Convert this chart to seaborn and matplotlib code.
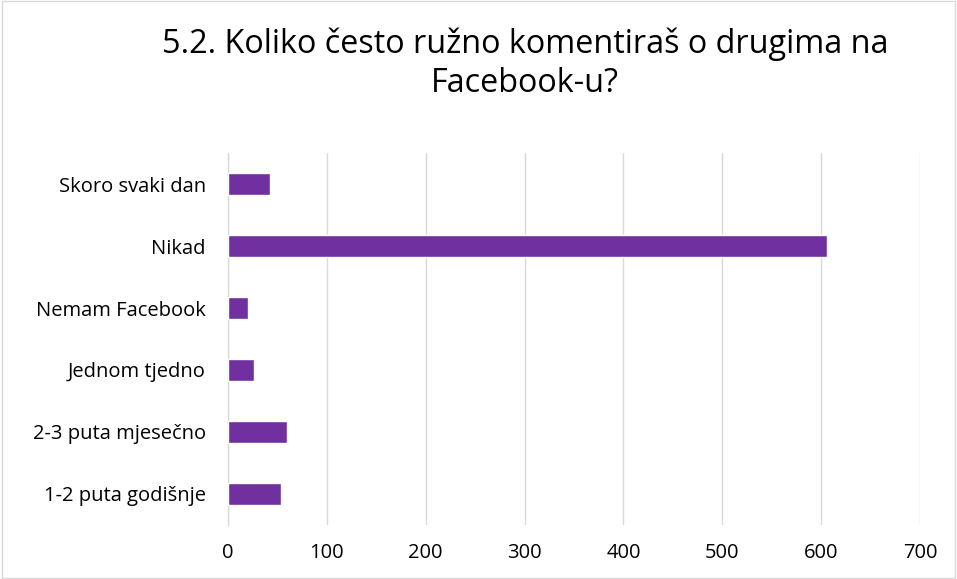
import matplotlib
matplotlib.use("Agg")
import pandas as pd
import seaborn as sns
import matplotlib.pyplot as plt

categories = ["Skoro svaki dan", "Nikad", "Nemam Facebook", "Jednom tjedno",
              "2-3 puta mjesečno", "1-2 puta godišnje"]
counts = [42, 606, 20, 26, 60, 54]
x_ticks = [0, 100, 200, 300, 400, 500, 600, 700]

sns.set_theme(style="white")
plt.rcParams["font.family"] = ["Open Sans", "DejaVu Sans"]

df = pd.DataFrame({"kategorija": categories, "broj": counts})

fig = plt.figure(figsize=(9.57, 5.79), dpi=100)
ax = fig.add_axes([228 / 957, 1 - 525 / 579, (920 - 228) / 957, (525 - 153) / 579])

sns.barplot(data=df, x="broj", y="kategorija", color="#7030A0", width=0.35,
            saturation=1, ax=ax, zorder=3)

ax.set_xlim(0, 700)
ax.set_xticks(x_ticks)
ax.xaxis.grid(True, color="#D9D9D9", linewidth=1, zorder=0)
ax.set_xlabel("")
ax.set_ylabel("")
for s in ["top", "right", "bottom"]:
    ax.spines[s].set_visible(False)
ax.spines["left"].set_color("#D9D9D9")
ax.spines["left"].set_linewidth(1)
ax.tick_params(axis="both", length=0, labelsize=14.5, colors="#000000")
ax.tick_params(axis="x", pad=13)
ax.tick_params(axis="y", pad=16)

fig.text(525 / 957, 1 - 64 / 579, "5.2. Koliko često ružno komentiraš o drugima na\nFacebook-u?",
         ha="center", va="center", fontsize=23.3, linespacing=1.25, color="#000000")

border = plt.Rectangle((0.002, 0.002), 0.996, 0.996, transform=fig.transFigure,
                       fill=False, edgecolor="#D9D9D9", linewidth=1)
fig.patches.append(border)

fig.savefig("out.png", dpi=100)
